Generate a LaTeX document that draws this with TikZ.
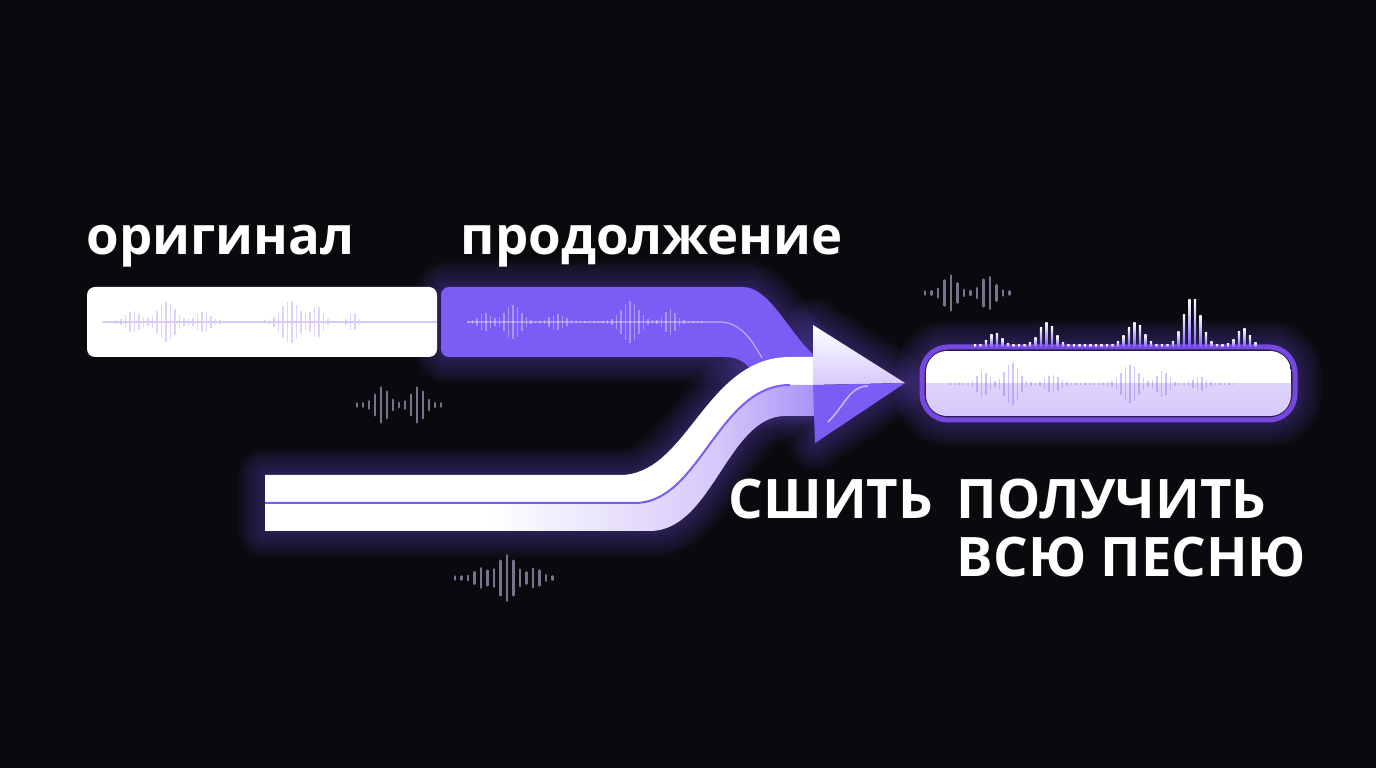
\documentclass[tikz,border=0pt]{standalone}
\usepackage{fontspec}
\setmainfont{Open Sans}

\definecolor{bg}{HTML}{0A0A0E}
\definecolor{vio}{HTML}{7B5CF5}
\definecolor{viodeep}{HTML}{7548E0}
\definecolor{lav}{HTML}{D6C9FA}
\definecolor{wavegray}{HTML}{76748A}

\pgfdeclarehorizontalshading{tailfade}{100bp}{color(0bp)=(white); color(45bp)=(white); color(66bp)=(lav); color(84bp)=(vio); color(100bp)=(vio)}

\tikzset{
  lower text/.style={text=white, inner sep=0pt, anchor=base west,
    font=\fontsize{15}{18}\selectfont\bfseries},
  upper text/.style={text=white, inner sep=0pt, anchor=base west,
    font=\fontsize{15.5}{18}\selectfont\bfseries},
  gray bar/.style={wavegray, line width=0.28mm, line cap=round},
}

% symmetric bar wave: first, second, last x, centre y, half height in \x, style
\newcommand\barwave[6]{%
  \foreach \x in {#1,#2,...,#3}{%
    \pgfmathsetmacro\h{#5}%
    \draw[#6] (\x,#4-\h) -- (\x,#4+\h);
  }}

% soft purple halo along a path
\newcommand\halo[1]{%
  \foreach \w in {6,12,...,54}{%
    \draw[vio, opacity=0.04, line width=\w*0.1mm, line join=round] #1;
  }}

\def\ribbonpath{(815,400) -- (768,400) .. controls (755,370) and (745,357) .. (725,357)
  [rounded corners=0.8mm] -- (441,357) -- (441,287) -- (735,287) [sharp corners]
  .. controls (770,287) and (790,335) .. (815,356) -- cycle}
\def\arrowpath{(265,475) -- (620,475) .. controls (688,475) and (705,357) .. (790,357)
  -- (813,357) -- (813,325) -- (905,383) -- (815,443) -- (815,416) -- (785,416)
  .. controls (728,416) and (712,531) .. (650,531) -- (265,531) -- cycle}

\begin{document}
\begin{tikzpicture}[x=0.1mm, y=-0.1mm,
  declare function={bump(\u,\m,\s)=exp(-min(((\u-\m)/\s)*((\u-\m)/\s),9));}]
\fill[bg] (0,0) rectangle (1376,768);

% halos
\halo{\ribbonpath}
\halo{\arrowpath}
\halo{[rounded corners=2.6mm] (922,347) rectangle (1295,420)}

% small grey waves
\barwave{925}{931.5}{1012}{293}{1.5+16*bump(\x,950,9)+15*bump(\x,988,9)}{gray bar}
\barwave{357}{363}{442}{405}{1.5+16*bump(\x,382,9)+16*bump(\x,418,9)}{gray bar}
\barwave{455}{461.5}{557}{578}{1.5+21*bump(\x,507,12)+8*bump(\x,481,8)+8*bump(\x,535,8)}{gray bar}

% original clip
\fill[white, rounded corners=0.8mm] (87,287) rectangle (437,357);
\draw[lav, line width=0.12mm] (103,322) -- (437,322);
\barwave{103}{107.5}{367}{322}{1+10*bump(\x,133,10)+19*bump(\x,167,12)+9*bump(\x,203,10)+20*bump(\x,290,13)+15*bump(\x,317,8)+8*bump(\x,353,6)}{lav, line width=0.14mm, opacity=0.8}

% continuation ribbon
\fill[vio] \ribbonpath;
\draw[white, opacity=0.5, line width=0.12mm] (468,322) -- (720,322)
  .. controls (740,322) and (752,340) .. (762,358);
\barwave{468}{472.5}{705}{322}{1+8*bump(\x,485,8)+16*bump(\x,513,11)+7*bump(\x,557,10)+20*bump(\x,630,12)+12*bump(\x,670,8)}{white, line width=0.14mm, opacity=0.35}

% stitching arrow
\fill[white] (265,475) -- (620,475) .. controls (688,475) and (705,357) .. (790,357)
  -- (815,357) -- (815,386) -- (790,385) .. controls (718,385) and (700,503) .. (635,503)
  -- (265,503) -- cycle;
\shade[shading=tailfade] (265,503) -- (635,503) .. controls (700,503) and (718,385) .. (790,385)
  -- (815,385) -- (815,416) -- (785,416) .. controls (728,416) and (712,531) .. (650,531)
  -- (265,531) -- cycle;
\draw[vio, line width=0.2mm] (265,503) -- (635,503) .. controls (700,503) and (718,385) .. (790,385);
\shade[top color=white, bottom color=lav] (813,325) -- (905,383) -- (813,385) -- cycle;
\fill[vio] (813,385) -- (905,383) -- (815,443) -- cycle;
\draw[white, opacity=0.6, line width=0.15mm] (828,422) .. controls (845,405) and (850,386) .. (868,386);

% whole song
\draw[viodeep, line width=0.5mm, rounded corners=2.6mm] (922,347) rectangle (1295,420);
\begin{scope}
  \clip[rounded corners=2.1mm] (926,351) rectangle (1291,416);
  \fill[white] (926,351) rectangle (1291,384);
  \shade[top color=lav!80, bottom color=lav] (926,384) rectangle (1291,416);
\end{scope}
\barwave{950}{954.5}{1235}{384}{1+12*bump(\x,983,8)+20*bump(\x,1012,10)+8*bump(\x,1053,10)+18*bump(\x,1130,12)+12*bump(\x,1163,8)+6*bump(\x,1200,8)}{vio, line width=0.14mm, opacity=0.35}
\foreach \x in {975,980.5,...,1258}{
  \pgfmathsetmacro\h{2+12*bump(\x,995,9)+23*bump(\x,1047,11)+23*bump(\x,1135,12)+48*bump(\x,1192,12)+17*bump(\x,1243,9)}
  \shade[bottom color=vio, top color=white] (\x-1.1,347) rectangle (\x+1.1,347-\h);
}

% labels
\node[lower text] (orig) at (86,255) {оригинал};
\node[lower text] (cont) at (460,255) {продолжение};
\node[upper text] (stitch) at (728,519) {СШИТЬ};
\node[upper text] (get) at (956,519) {ПОЛУЧИТЬ};
\node[upper text] (song) at (956,577) {ВСЮ ПЕСНЮ};
\end{tikzpicture}
\end{document}
